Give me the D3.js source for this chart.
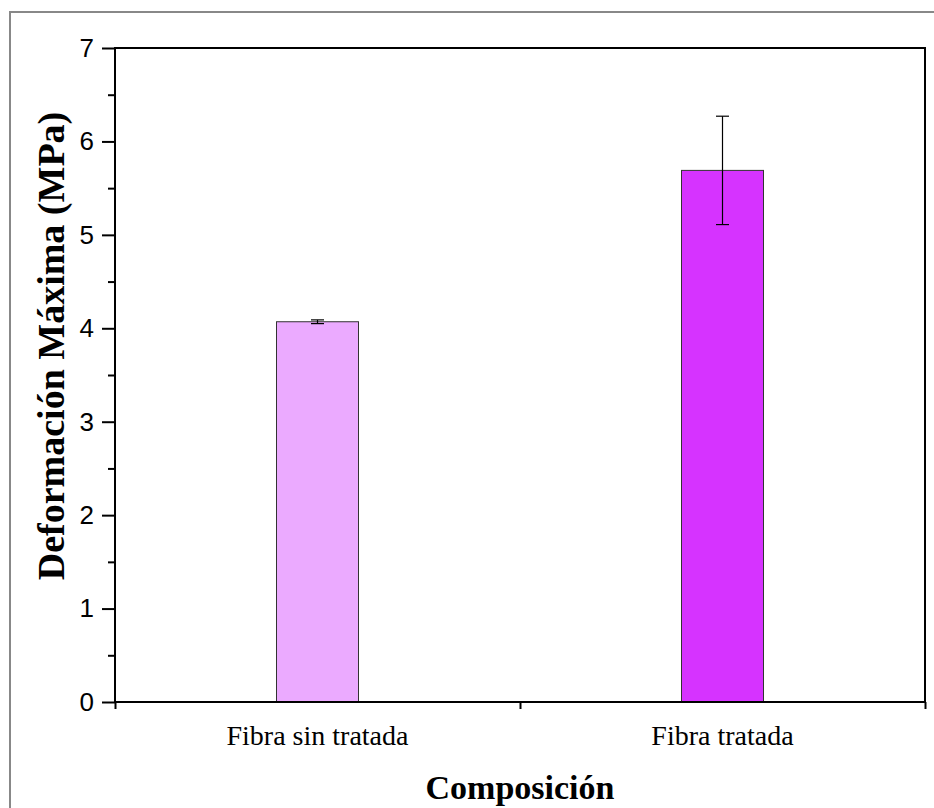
<!DOCTYPE html>
<html>
<head>
<meta charset="utf-8">
<script src="https://cdn.jsdelivr.net/npm/d3@7"></script>
<style>
  body { margin: 0; background: #fff; }
  svg { display: block; }
</style>
</head>
<body>
<svg id="chart" width="934" height="808"></svg>
<script>
// data
const categories = ["Fibra sin tratada", "Fibra tratada"];
const means = [4.07, 5.69];
const errors = [0.02, 0.58];
const barColors = ["#ebaaff", "#d633ff"];
const yTicks = [0, 1, 2, 3, 4, 5, 6, 7];

const svg = d3.select("#chart");

// outer frame (only left + top visible in the picture)
svg.append("path")
  .attr("d", "M10,808 V12 H934")
  .attr("fill", "none")
  .attr("stroke", "#888")
  .attr("stroke-width", 2);

const plotL = 115, plotR = 925, plotT = 48, plotB = 702;

const x = d3.scaleBand().domain(categories).range([plotL, plotR]);
const y = d3.scaleLinear().domain([0, 7]).range([plotB, plotT]);
const barW = 82;

// bars
svg.selectAll("rect.bar")
  .data(categories)
  .enter().append("rect")
  .attr("class", "bar")
  .attr("x", d => x(d) + x.bandwidth() / 2 - barW / 2)
  .attr("width", barW)
  .attr("y", (d, i) => y(means[i]))
  .attr("height", (d, i) => y(0) - y(means[i]))
  .attr("fill", (d, i) => barColors[i])
  .attr("stroke", "#333")
  .attr("stroke-width", 1);

// error bars
const eb = svg.selectAll("g.err")
  .data(categories)
  .enter().append("g")
  .attr("stroke", "#000")
  .attr("stroke-width", 1.2);
eb.append("line")
  .attr("x1", d => x(d) + x.bandwidth() / 2)
  .attr("x2", d => x(d) + x.bandwidth() / 2)
  .attr("y1", (d, i) => y(means[i] + errors[i]))
  .attr("y2", (d, i) => y(means[i] - errors[i]));
[1, -1].forEach(s => {
  eb.append("line")
    .attr("x1", d => x(d) + x.bandwidth() / 2 - 6.5)
    .attr("x2", d => x(d) + x.bandwidth() / 2 + 6.5)
    .attr("y1", (d, i) => y(means[i] + s * errors[i]))
    .attr("y2", (d, i) => y(means[i] + s * errors[i]));
});

// y axis: major ticks
const yAxis = svg.append("g")
  .attr("transform", `translate(${plotL},0)`)
  .call(d3.axisLeft(y).tickValues(yTicks).tickSize(13).tickPadding(8).tickFormat(d3.format("d")));
yAxis.select(".domain").remove();
yAxis.selectAll(".tick line").attr("stroke", "#000").attr("stroke-width", 2);
yAxis.selectAll(".tick text")
  .attr("font-family", "Arial, 'Liberation Sans', sans-serif")
  .attr("font-size", 26)
  .attr("fill", "#000");

// y minor ticks
const yMinor = svg.append("g")
  .attr("transform", `translate(${plotL},0)`)
  .call(d3.axisLeft(y).tickValues(d3.range(0.5, 7, 1)).tickSize(7).tickFormat(""));
yMinor.select(".domain").remove();
yMinor.selectAll(".tick line").attr("stroke", "#000").attr("stroke-width", 2);

// x axis ticks at category boundaries
const xb = d3.scaleLinear().domain([0, 2]).range([plotL, plotR]);
const xAxis = svg.append("g")
  .attr("transform", `translate(0,${plotB})`)
  .call(d3.axisBottom(xb).tickValues([0, 1, 2]).tickSize(7).tickFormat(""));
xAxis.select(".domain").remove();
xAxis.selectAll(".tick line").attr("stroke", "#000").attr("stroke-width", 2);

// category labels
svg.selectAll("text.cat")
  .data(categories)
  .enter().append("text")
  .attr("class", "cat")
  .attr("x", d => x(d) + x.bandwidth() / 2)
  .attr("y", 745)
  .attr("text-anchor", "middle")
  .attr("font-family", "'Liberation Serif', 'Times New Roman', serif")
  .attr("font-size", 28)
  .attr("fill", "#000")
  .text(d => d);

// frame lines
svg.append("rect")
  .attr("x", plotL).attr("y", plotT)
  .attr("width", plotR - plotL).attr("height", plotB - plotT)
  .attr("fill", "none")
  .attr("stroke", "#000")
  .attr("stroke-width", 2);

// axis titles
svg.append("text")
  .attr("x", (plotL + plotR) / 2)
  .attr("y", 799)
  .attr("text-anchor", "middle")
  .attr("font-family", "'Liberation Serif', 'Times New Roman', serif")
  .attr("font-weight", "bold")
  .attr("font-size", 34)
  .attr("fill", "#000")
  .text("Composición");

svg.append("text")
  .attr("transform", "translate(64,346) rotate(-90)")
  .attr("text-anchor", "middle")
  .attr("font-family", "'Liberation Serif', 'Times New Roman', serif")
  .attr("font-weight", "bold")
  .attr("font-size", 38)
  .attr("fill", "#000")
  .text("Deformación Máxima (MPa)");
</script>
</body>
</html>
